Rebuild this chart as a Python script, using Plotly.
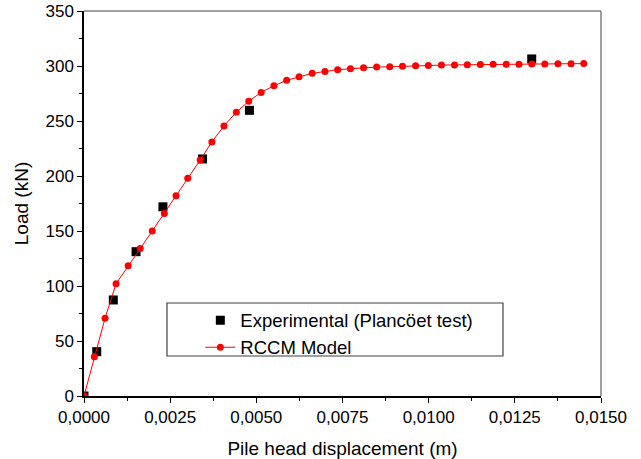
import plotly.graph_objects as go

# RCCM model curve
model_disp = [0, 0.0003, 0.00061, 0.00093, 0.00128, 0.00163, 0.00198, 0.00233,
              0.00267, 0.00301, 0.00337, 0.00371, 0.00406, 0.00442, 0.00478, 0.00514,
              0.00551, 0.00588, 0.00624, 0.00662, 0.00699, 0.00736, 0.00773, 0.00811,
              0.00849, 0.00887, 0.00924, 0.00962, 0.00999, 0.01037, 0.01075, 0.01112,
              0.0115, 0.01187, 0.01225, 0.01262, 0.01299, 0.01337, 0.01375, 0.01413, 0.0145]
model_load = [0, 35.7, 70.6, 102, 118.5, 134, 150, 166,
              182, 198, 214.5, 231, 245.5, 258, 268, 276,
              282, 287, 290.3, 293.3, 295, 296.6, 297.5, 298.5,
              299, 299.3, 299.8, 300.2, 300.5, 300.8, 301, 301.2,
              301.3, 301.5, 301.6, 301.7, 301.8, 301.9, 302, 302.1, 302.2]

# Experimental (Plancoet test)
exp_disp = [0, 0.00037, 0.00085, 0.00151, 0.00229, 0.00344, 0.0048, 0.01299]
exp_load = [0, 40.3, 87.3, 131.2, 172, 215.5, 259.7, 306.4]

x_ticks = [0, 0.0025, 0.005, 0.0075, 0.01, 0.0125, 0.015]
y_ticks = [0, 50, 100, 150, 200, 250, 300, 350]

FONT = "Liberation Sans, Arial, sans-serif"

fig = go.Figure()
fig.add_trace(go.Scatter(
    x=exp_disp, y=exp_load, mode="markers",
    name="Experimental (Plancöet test)",
    marker=dict(symbol="square", size=9, color="black"),
))
fig.add_trace(go.Scatter(
    x=model_disp, y=model_load, mode="lines+markers",
    name="RCCM Model",
    line=dict(color="#ff0000", width=1),
    marker=dict(symbol="circle", size=7, color="#ff0000"),
))

axis_common = dict(
    showgrid=False, zeroline=False, showline=True, linecolor="black", linewidth=1.5,
    ticks="outside", ticklen=5, tickwidth=1, tickcolor="black",
    tickfont=dict(family=FONT, size=17, color="black"),
    mirror=False, automargin=False,
)

fig.update_layout(
    width=641, height=459,
    margin=dict(l=84, r=40, t=11, b=63),
    paper_bgcolor="white", plot_bgcolor="white",
    separators=", ",
    font=dict(family=FONT, color="black"),
    xaxis=dict(
        range=[0, 0.015], tickvals=x_ticks, tickformat=".4f",
        minor=dict(ticks="outside", ticklen=3, dtick=0.00125, tickcolor="black"),
        title=dict(text="Pile head displacement (m)", font=dict(family=FONT, size=19), standoff=18),
        **axis_common,
    ),
    yaxis=dict(
        range=[0, 350], tickvals=y_ticks,
        minor=dict(ticks="outside", ticklen=3, dtick=25, tickcolor="black"),
        title=dict(text="Load (kN)", font=dict(family=FONT, size=19), standoff=12),
        **axis_common,
    ),
    showlegend=True,
    legend=dict(
        x=0.225, y=0.245, xanchor="left", yanchor="top",
        bgcolor="rgba(0,0,0,0)", borderwidth=0,
        font=dict(family=FONT, size=18.5, color="black"),
        tracegroupgap=0,
    ),
    shapes=[
        dict(type="line", xref="paper", yref="paper", x0=0, x1=1, y0=1, y1=1,
             line=dict(color="#808080", width=1.5)),
        dict(type="line", xref="paper", yref="paper", x0=1, x1=1, y0=0, y1=1,
             line=dict(color="#808080", width=1.5)),
        dict(type="rect", xref="paper", yref="paper", x0=0.1605, x1=0.8104, y0=0.1039, y1=0.2416,
             line=dict(color="#404040", width=1.2), fillcolor="rgba(0,0,0,0)"),
    ],
)

fig.write_html("out.html", config={"displayModeBar": False},
               post_script="document.body.style.margin='0';")
